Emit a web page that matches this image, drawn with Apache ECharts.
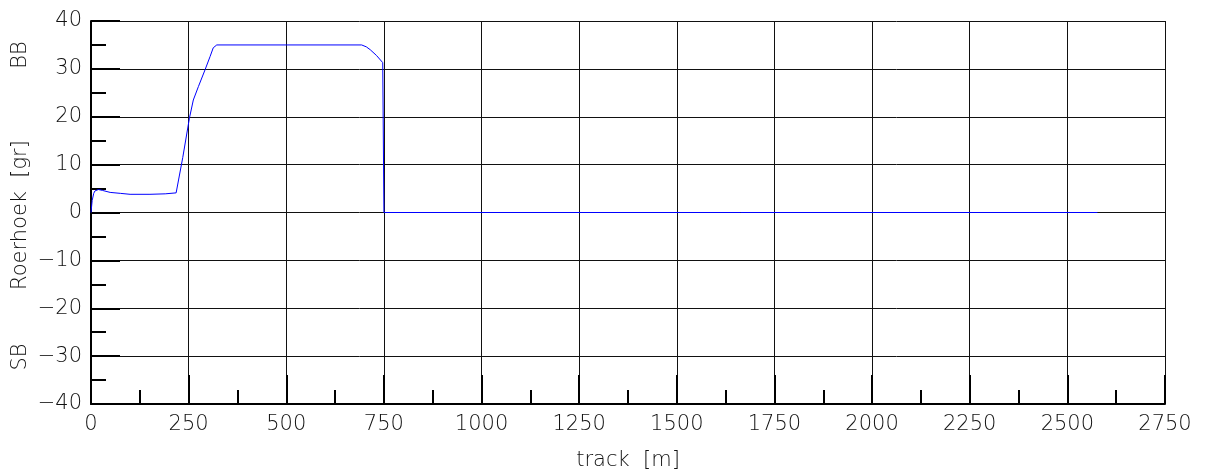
<!DOCTYPE html>
<html>
<head>
<meta charset="utf-8">
<script src="https://cdn.jsdelivr.net/npm/echarts@6/dist/echarts.min.js"></script>
<style>
  html, body { margin: 0; padding: 0; background: #fff; }
  #chart { width: 1206px; height: 476px; }
</style>
</head>
<body>
<div id="chart"></div>
<script>
// Rudder angle along the track
const trackM = [0, 3, 7, 10, 19, 30, 49, 75, 100, 151, 190, 218, 235, 252, 262, 275, 292, 305, 313, 322, 500, 693, 705, 715, 731, 747, 750, 2577];
const angleGr = [0, 2.5, 4.0, 4.5, 4.8, 4.6, 4.2, 4.0, 3.8, 3.8, 3.9, 4.1, 11.5, 19.7, 23.5, 26.3, 29.8, 32.6, 34.4, 35, 35, 35, 34.6, 34.0, 32.8, 31.3, 0, 0];

const xTicks = { min: 0, max: 2750, interval: 250 };
const yTicks = { min: -40, max: 40, interval: 10 };

const FONT = '"DejaVu Sans", sans-serif';
const INK = '#111';
const FS = 21;

const chart = echarts.init(document.getElementById('chart'), null, { renderer: 'canvas' });

const sideText = (text, y) => ({
  type: 'text', x: 21, y: y, rotation: Math.PI / 2,
  style: { text: text, fontFamily: FONT, fontSize: FS, fontWeight: 200, fill: INK,
           align: 'center', verticalAlign: 'middle' }
});

chart.setOption({
  animation: false,
  backgroundColor: '#fff',
  grid: { left: 91, right: 41, top: 21, bottom: 71, containLabel: false },
  xAxis: {
    type: 'value',
    min: xTicks.min, max: xTicks.max, interval: xTicks.interval,
    name: 'track  [m]',
    nameLocation: 'middle',
    nameGap: 46,
    nameTextStyle: { fontFamily: FONT, fontSize: FS, fontWeight: 200, color: INK },
    axisLine: { show: true, onZero: false, lineStyle: { color: '#000', width: 2 } },
    axisTick: { show: true, inside: true, length: 29, lineStyle: { color: '#000', width: 2 } },
    minorTick: { show: true, splitNumber: 2, length: 14, lineStyle: { color: '#000', width: 2 } },
    axisLabel: { fontFamily: FONT, fontSize: FS, fontWeight: 200, color: INK, margin: 10,
                 formatter: v => String(v) },
    splitLine: { show: true, lineStyle: { color: '#111', width: 1 } }
  },
  yAxis: {
    type: 'value',
    min: yTicks.min, max: yTicks.max, interval: yTicks.interval,
    axisLine: { show: true, onZero: false, lineStyle: { color: '#000', width: 2 } },
    axisTick: { show: true, inside: true, length: 29, lineStyle: { color: '#000', width: 2 } },
    minorTick: { show: true, splitNumber: 2, length: 15, lineStyle: { color: '#000', width: 2 } },
    axisLabel: {
      fontFamily: FONT, fontSize: FS, fontWeight: 200, color: INK, margin: 9,
      formatter: v => (v < 0 ? '\u2212' + Math.abs(v) : String(v))
    },
    splitLine: { show: true, lineStyle: { color: '#111', width: 1 } }
  },
  graphic: [
    sideText('BB', 55),
    sideText('Roerhoek  [gr]', 215),
    sideText('SB', 357)
  ],
  series: [{
    type: 'line',
    data: trackM.map((x, i) => [x, angleGr[i]]),
    showSymbol: false,
    lineStyle: { color: '#0000ff', width: 1 },
    itemStyle: { color: '#0000ff' },
    z: 5
  }]
});
</script>
</body>
</html>
